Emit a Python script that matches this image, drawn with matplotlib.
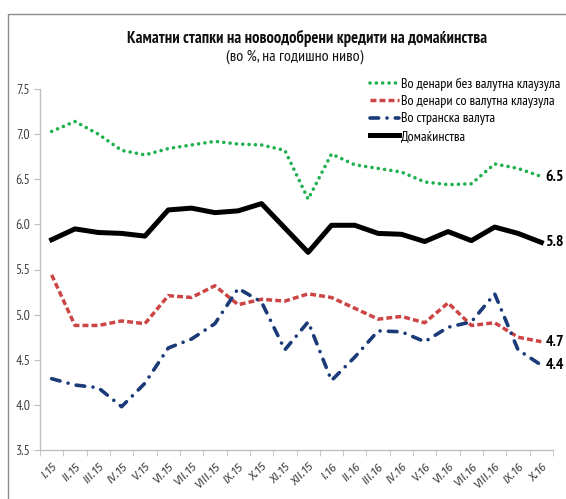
import matplotlib
matplotlib.use("Agg")
import matplotlib.pyplot as plt
from matplotlib.patches import Rectangle

FONT = 'PT Sans Narrow'
plt.rcParams['font.family'] = [FONT, 'DejaVu Sans']

categories = ["I.15", "II.15", "III.15", "IV.15", "V.15", "VI.15", "VII.15", "VIII.15",
              "IX.15", "X.15", "XI.15", "XII.15", "I.16", "II.16", "III.16", "IV.16",
              "V.16", "VI.16", "VII.16", "VIII.16", "IX.16", "X.16"]

den_bez = [7.03, 7.14, 7.00, 6.82, 6.77, 6.84, 6.88, 6.92, 6.89, 6.88, 6.82, 6.28,
           6.78, 6.66, 6.62, 6.58, 6.47, 6.44, 6.45, 6.67, 6.62, 6.53]
den_so = [5.44, 4.88, 4.88, 4.93, 4.90, 5.21, 5.19, 5.32, 5.11, 5.17, 5.15, 5.23,
          5.19, 5.07, 4.95, 4.98, 4.91, 5.13, 4.88, 4.91, 4.75, 4.70]
stranska = [4.29, 4.22, 4.19, 3.98, 4.24, 4.63, 4.73, 4.90, 5.29, 5.14, 4.61, 4.92,
            4.27, 4.53, 4.82, 4.81, 4.70, 4.86, 4.92, 5.23, 4.61, 4.44]
domakinstva = [5.83, 5.95, 5.91, 5.90, 5.87, 6.16, 6.18, 6.13, 6.15, 6.23, 5.96, 5.69,
               5.99, 5.99, 5.90, 5.89, 5.81, 5.92, 5.82, 5.97, 5.90, 5.80]

labels = ["Во денари без валутна клаузула", "Во денари со валутна клаузула",
          "Во странска валута", "Домаќинства"]
yticks = [3.5, 4.0, 4.5, 5.0, 5.5, 6.0, 6.5, 7.0, 7.5]

W, H = 566, 499
fig = plt.figure(figsize=(W / 100, H / 100), dpi=100)
ax = fig.add_axes([40 / W, 1 - 450 / H, 513 / W, 361 / H])

# outer frame
fig.patches.append(Rectangle((8 / W, -0.05), 1.2, 1 - 14 / H + 0.05, transform=fig.transFigure,
                             fill=False, edgecolor='#8c8c8c', linewidth=1.0))

x = list(range(len(categories)))
l1, = ax.plot(x, den_bez, color='#1FB04E', linewidth=2.6, linestyle=(0, (0.01, 1.75)),
              dash_capstyle='round', label=labels[0])
l2, = ax.plot(x, den_so, color='#CC4444', linewidth=2.5, linestyle=(0, (1.7, 0.9)),
              label=labels[1])
l3, = ax.plot(x, stranska, color='#1B3A78', linewidth=2.6, linestyle=(0, (2.4, 2.3, 0.01, 2.3)),
              dash_capstyle='round', label=labels[2])
l4, = ax.plot(x, domakinstva, color='black', linewidth=3.6, label=labels[3])

for series in (den_bez, domakinstva, den_so, stranska):
    ax.annotate(f"{series[-1]:.1f}", xy=(x[-1], series[-1]), xytext=(3, 0),
                textcoords='offset points', va='center', ha='left',
                fontsize=11.5, fontweight='bold', color='black', annotation_clip=False)

ax.set_xlim(-0.5, len(categories) - 0.5)
ax.set_ylim(3.5, 7.5)
ax.set_yticks(yticks)
ax.set_yticklabels([f"{v:.1f}" for v in yticks])
ax.set_xticks(x)
ax.set_xticklabels(categories, rotation=45, ha='right', rotation_mode='anchor',
                   family=['Fira Sans', 'DejaVu Sans'], fontstyle='italic')
ax.set_xticks([i - 0.5 for i in range(len(categories) + 1)], minor=True)
ax.tick_params(axis='x', which='major', length=0, pad=8, labelsize=8.5, labelcolor='#404040')
ax.tick_params(axis='x', which='minor', length=4, color='#BFBFBF', direction='out')
ax.tick_params(axis='y', length=4, color='#BFBFBF', labelsize=10, labelcolor='#404040', pad=3)
for s in ('top', 'right'):
    ax.spines[s].set_visible(False)
for s in ('left', 'bottom'):
    ax.spines[s].set_color('#BFBFBF')
    ax.spines[s].set_linewidth(1.0)

fig.text(0.5 * (127 + 487) / W, 1 - 38 / H, "Каматни стапки на новоодобрени кредити на домаќинства",
         ha='center', va='center', fontsize=12, fontweight='bold', color='#111111')
fig.text(0.5 * (213 + 376) / W, 1 - 57 / H, "(во %, на годишно ниво)",
         ha='center', va='center', fontsize=11.5, color='#111111')

fig.legend(handles=[l1, l2, l3, l4], loc='upper left', bbox_to_anchor=(370 / W, 1 - 78 / H),
           frameon=False, fontsize=10, handlelength=2.1, handletextpad=0.15,
           labelspacing=0.3, borderpad=0, borderaxespad=0)

fig.savefig("out.png", dpi=100)
